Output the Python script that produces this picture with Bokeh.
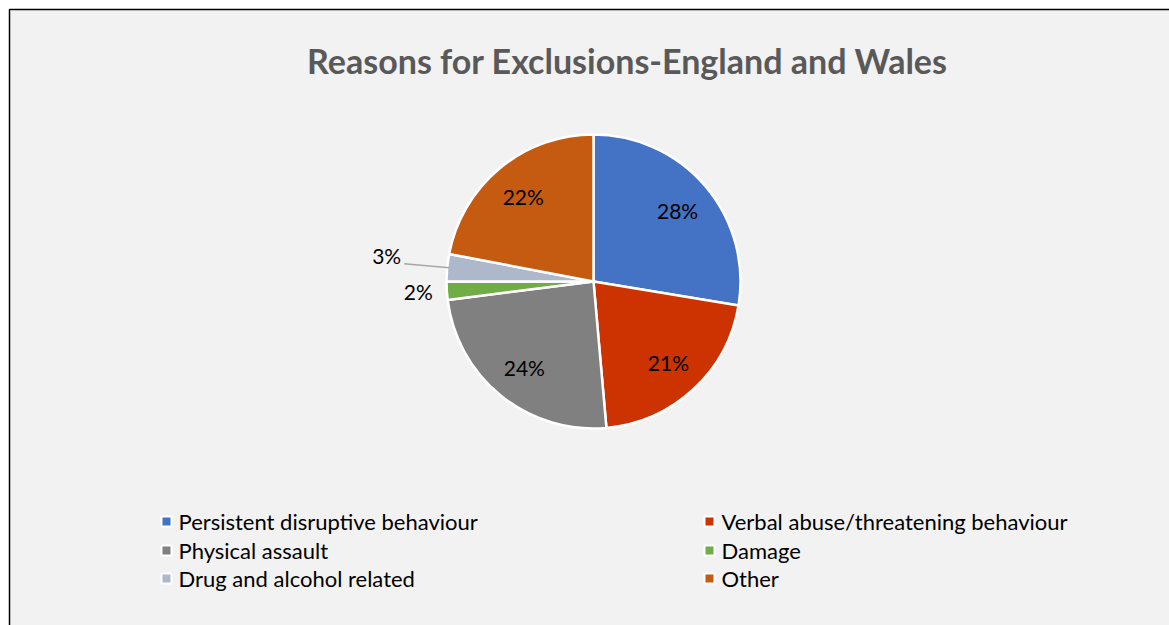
import math
from bokeh.plotting import figure
from bokeh.models import Range1d, ColumnDataSource
from bokeh.core.properties import value
from bokeh.embed import file_html
from bokeh.resources import INLINE

title = "Reasons for Exclusions-England and Wales"
categories = ["Persistent disruptive behaviour", "Verbal abuse/threatening behaviour",
              "Physical assault", "Damage", "Drug and alcohol related", "Other"]
values = [27.6, 21.0, 24.4, 2.0, 3.0, 22.0]
labels = ["28%", "21%", "24%", "2%", "3%", "22%"]
colors = ["#4472C4", "#CC3300", "#808080", "#70AD47", "#ADB9CA", "#C55A11"]

W, H = 1169, 625
FONT = "Lato"
p = figure(width=W, height=H, output_backend="svg", toolbar_location=None,
           x_range=Range1d(0, W), y_range=Range1d(0, H), min_border=0)
p.axis.visible = False
p.grid.visible = False
p.outline_line_color = None
p.background_fill_color = "white"
p.border_fill_color = "white"

def Y(py):
    return H - py

# chart frame
p.quad(left=[9], right=[W + 20], top=[Y(9)], bottom=[Y(H + 20)],
       fill_color="#F2F2F2", line_color="black", line_width=1.5)

# title
p.text(x=[627], y=[Y(60)], text=[title], text_font=value(FONT), text_font_style="bold",
       text_font_size="34px", text_color="#595959", text_align="center", text_baseline="middle")

# pie
cx, cy, R = 593, 281, 147
total = sum(values)
starts, ends, mids = [], [], []
cum = 0.0
for v in values:
    a0 = cum / total * 2 * math.pi
    cum += v
    a1 = cum / total * 2 * math.pi
    starts.append(math.pi / 2 - a1)
    ends.append(math.pi / 2 - a0)
    mids.append((a0 + a1) / 2)

src = ColumnDataSource(dict(start=starts, end=ends, color=colors))
p.wedge(x=cx, y=Y(cy), radius=R, start_angle="start", end_angle="end",
        fill_color="color", line_color="white", line_width=2.5, source=src)

# inside labels
inside = [0, 1, 2, 5]
lx = [cx + 0.75 * R * math.sin(mids[i]) for i in inside]
ly = [Y(cy - 0.75 * R * math.cos(mids[i])) for i in inside]
p.text(x=lx, y=ly, text=[labels[i] for i in inside], text_font=value(FONT),
       text_font_size="21px", text_color="black", text_align="center", text_baseline="middle")

# outside labels
# Damage
m = mids[3]
p.text(x=[cx + (R + 14) * math.sin(m)], y=[Y(cy - (R + 14) * math.cos(m))], text=[labels[3]],
       text_font=value(FONT), text_font_size="21px", text_color="black",
       text_align="right", text_baseline="middle")
# Drug and alcohol with leader
m = mids[4]
ex, ey = cx + (R - 2) * math.sin(m), cy - (R - 2) * math.cos(m)
p.line(x=[ex, ex - 45], y=[Y(ey), Y(ey - 4)], line_color="#A6A6A6", line_width=1.5)
p.text(x=[ex - 48], y=[Y(ey - 12)], text=[labels[4]], text_font=value(FONT),
       text_font_size="21px", text_color="black", text_align="right", text_baseline="middle")

# legend
col_x = [166, 709]
row_y = [521, 550, 578]
mx, my, tx, ty = [], [], [], []
for i, c in enumerate(categories):
    col, row = i % 2, i // 2
    mx.append(col_x[col]); my.append(Y(row_y[row]))
    tx.append(col_x[col] + 12); ty.append(Y(row_y[row]))
p.rect(x=mx, y=my, width=10, height=10, fill_color=colors, line_color="white", line_width=2)
p.text(x=tx, y=ty, text=categories, text_font=value(FONT), text_font_size="22px",
       text_color="black", text_align="left", text_baseline="middle")

open("out.html", "w").write(file_html(p, INLINE))
